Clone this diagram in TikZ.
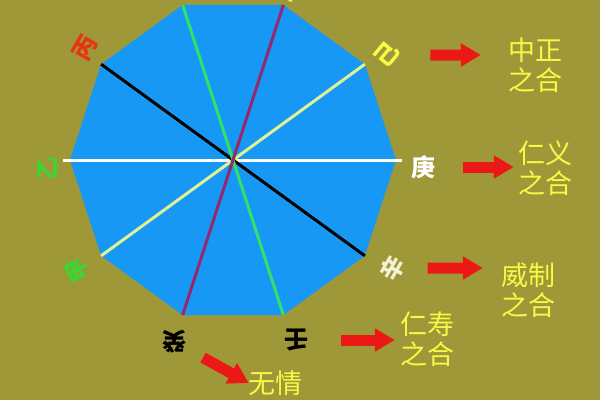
\documentclass[tikz,border=0pt]{standalone}
\usepackage{fontspec}
\setmainfont{Noto Sans CJK SC}
\usepackage{xcolor}
\usetikzlibrary{arrows.meta}

\definecolor{bgolive}{RGB}{158,152,56}
\definecolor{hexblue}{RGB}{22,152,244}
\definecolor{hexred}{RGB}{236,24,22}
\definecolor{hexyellow}{RGB}{250,248,70}
\definecolor{stemgreen}{RGB}{60,214,52}
\definecolor{stemred}{RGB}{232,52,22}
\definecolor{spokegreen}{RGB}{48,226,104}
\definecolor{spokepurple}{RGB}{150,40,108}
\definecolor{spokeyellow}{RGB}{222,242,150}

\begin{document}
\begin{tikzpicture}[x=1pt,y=1pt,
    stem/.style={font=\fontsize{24}{24}\selectfont\bfseries, inner sep=1pt},
    hename/.style={text=hexyellow, font=\fontsize{27}{30}\selectfont, align=center, inner sep=0pt},
    spoke/.style={line width=3pt},
    fatarrow/.style={draw=hexred, line width=11pt, -{Triangle[length=20pt,width=22pt]}}]
    \useasboundingbox[fill=bgolive] (-233,-240) rectangle (367,160);

    % the decagon and its corners
    \fill[hexblue] (0:163) \foreach \k in {1,...,9} { -- (\k*36:163) } -- cycle;
    \foreach \k in {0,...,9} \coordinate (v\k) at (\k*36:163);

    \draw[spoke,white] ([xshift=-7pt]v5) -- ([xshift=6pt]v0);
    \draw[spoke,spokeyellow] (v6) -- (v1);
    \draw[spoke,black] (v4) -- (v9);
    \draw[spoke,spokegreen] (v3) -- (v8);
    \draw[spoke,spokepurple] (v2) -- (v7);

    % stems round the decagon
    \node[stem,text=stemgreen,rotate=115] (jia) at (-155,-110) {甲};
    \node[stem,text=stemgreen,rotate=90] (yi) at (-185,-8) {乙};
    \node[stem,text=stemred,rotate=60] (bing) at (-148,112) {丙};
    \node[stem,text=stemred,rotate=30] (ding) at (-62,171) {丁};
    \node[stem,text=hexyellow,rotate=20] (wu) at (64,171) {戊};
    \node[stem,text=hexyellow,rotate=50] (ji) at (154,105) {己};
    \node[stem,text=white] (geng) at (190,-7) {庚};
    \node[stem,text={rgb,255:red,244;green,242;blue,214},rotate=60] (xin) at (159,-108) {辛};
    \node[stem,text=black,rotate=180] (ren) at (64,-180) {壬};
    \node[stem,text=black,rotate=180] (gui) at (-58,-182) {癸};

    % the pairs
    \node[hename] (zhongzheng) at (302,95) {中正\\之合};
    \node[hename] (renyi) at (312,-8) {仁义\\之合};
    \node[hename] (weizhi) at (295,-130) {威制\\之合};
    \node[hename] (renshou) at (194,-179) {仁寿\\之合};
    \node[hename] (wuqing) at (43,-223) {无情};

    \draw[fatarrow,shorten <=28pt,shorten >=27pt] (ji) -- (ji -| zhongzheng.west);
    \draw[fatarrow,shorten <=27pt,shorten >=4pt] (geng) -- (geng -| renyi.west);
    \draw[fatarrow,shorten <=21pt,shorten >=18pt] (xin) -- (xin -| weizhi.west);
    \draw[fatarrow,shorten <=31pt,shorten >=5pt] (ren) -- (ren -| renshou.west);
    \draw[fatarrow,shorten <=17pt] (gui) -- (wuqing.west);
\end{tikzpicture}
\end{document}
